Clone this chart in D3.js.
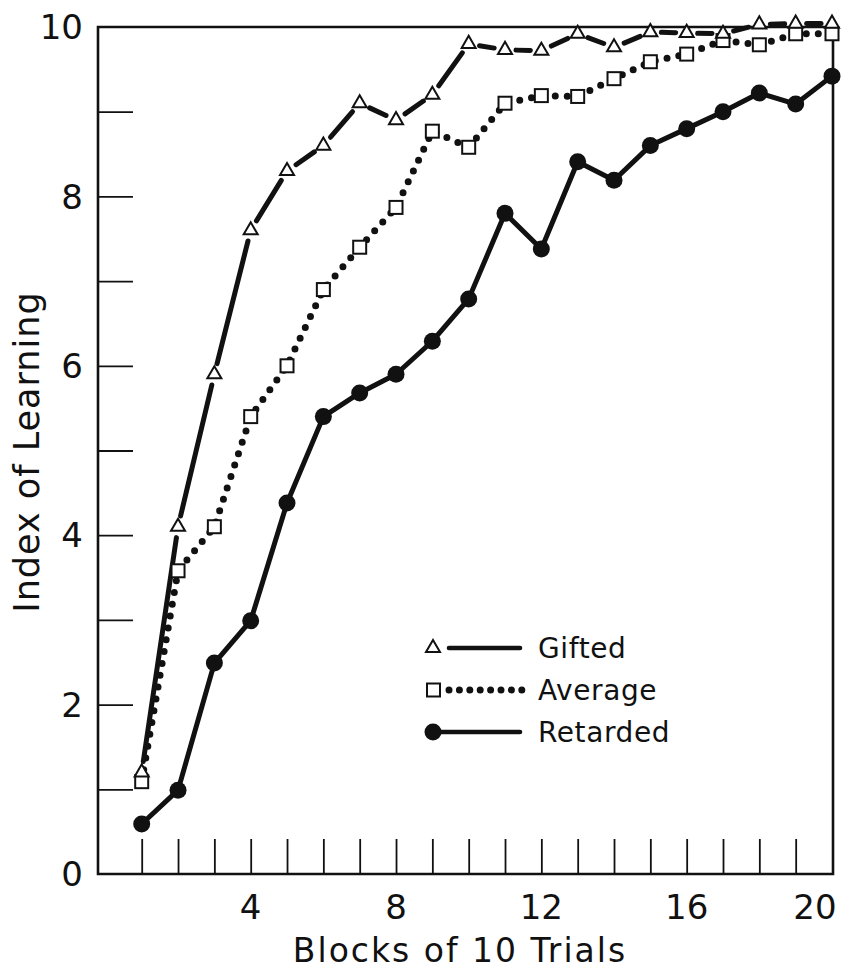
<!DOCTYPE html>
<html>
<head>
<meta charset="utf-8">
<script src="https://cdn.jsdelivr.net/npm/d3@7"></script>
<style>
  html, body { margin: 0; padding: 0; background: #fff; }
  svg { display: block; }
  text { font-family: "DejaVu Sans", sans-serif; fill: #111; }
</style>
</head>
<body>
<svg id="chart" width="843" height="969"></svg>
<script>
// ---- data ----
const blocks = d3.range(1, 21);
const gifted   = [1.2, 4.1, 5.9, 7.6, 8.3, 8.6, 9.1, 8.9, 9.2, 9.8, 9.73, 9.72, 9.92, 9.76, 9.94, 9.93, 9.92, 10.03, 10.04, 10.04];
const average  = [1.09, 3.58, 4.1, 5.4, 6.0, 6.9, 7.4, 7.87, 8.77, 8.58, 9.1, 9.19, 9.18, 9.39, 9.59, 9.68, 9.84, 9.79, 9.92, 9.92];
const retarded = [0.59, 0.99, 2.49, 2.99, 4.38, 5.4, 5.68, 5.9, 6.29, 6.79, 7.8, 7.38, 8.41, 8.19, 8.6, 8.8, 9.0, 9.22, 9.09, 9.42];
const xTickLabels = [4, 8, 12, 16, 20];
const yTickLabels = [0, 2, 4, 6, 8, 10];
const yMinorTicks = d3.range(1, 10);
const xMinorTicks = d3.range(1, 20);
const legendItems = ["Gifted", "Average", "Retarded"];
const xTitle = "Blocks of 10 Trials";
const yTitle = "Index of Learning";

(function () {
// ---- layout ----
const svg = d3.select("#chart");
const mLeft = 98, mRight = 833, mTop = 27, mBottom = 874;
const x = d3.scaleLinear().domain([1, 20]).range([141.7, 832]);
const y = d3.scaleLinear().domain([0, 10]).range([mBottom, mTop]);

// frame
const g = svg.append("g");
g.append("path")
  .attr("d", `M${mLeft},${mTop}H${mRight}V${mBottom}H${mLeft}Z`)
  .attr("fill", "none").attr("stroke", "#111").attr("stroke-width", 2.6);

// y inner ticks
const yAxis = d3.axisRight(y).tickValues(yMinorTicks).tickSize(35).tickFormat("");
const ya = g.append("g").attr("transform", `translate(${mLeft},0)`).call(yAxis);
ya.select(".domain").remove();
ya.selectAll("line").attr("stroke", "#111").attr("stroke-width", 1.8);

// x inner ticks
const xAxis = d3.axisTop(x).tickValues(xMinorTicks).tickSize(35).tickFormat("");
const xa = g.append("g").attr("transform", `translate(0,${mBottom})`).call(xAxis);
xa.select(".domain").remove();
xa.selectAll("line").attr("stroke", "#111").attr("stroke-width", 1.8);

// tick labels
g.selectAll(".ylab").data(yTickLabels).enter().append("text")
  .attr("x", 83).attr("y", d => y(d)).attr("dy", "0.36em")
  .attr("text-anchor", "end").attr("font-size", 34)
  .text(d => d);
g.selectAll(".xlab").data(xTickLabels).enter().append("text")
  .attr("x", d => x(d) + (d === 20 ? -17 : 0)).attr("y", 919)
  .attr("text-anchor", "middle").attr("font-size", 34)
  .text(d => d);

// titles
g.append("text").attr("x", 460).attr("y", 962).attr("text-anchor", "middle")
  .attr("font-size", 33).attr("letter-spacing", 2).text(xTitle);
g.append("text").attr("transform", "translate(39,452) rotate(-90)")
  .attr("text-anchor", "middle").attr("font-size", 35).attr("letter-spacing", 1).text(yTitle);

// ---- series ----
const pts = arr => arr.map((v, i) => [x(blocks[i]), y(v)]);
const line = d3.line();

// Retarded: solid thick line
const rp = pts(retarded);
g.append("path").attr("d", line(rp)).attr("fill", "none")
  .attr("stroke", "#111").attr("stroke-width", 5).attr("stroke-linejoin", "round");

// Average: dotted line
const ap = pts(average);
g.append("path").attr("d", line(ap)).attr("fill", "none")
  .attr("stroke", "#111").attr("stroke-width", 7)
  .attr("stroke-linecap", "round").attr("stroke-dasharray", "0 12");

// Gifted: long dash per segment with gaps at markers
const gp = pts(gifted);
const gap = 11;
for (let i = 0; i < gp.length - 1; i++) {
  const [x0, y0] = gp[i], [x1, y1] = gp[i + 1];
  const len = Math.hypot(x1 - x0, y1 - y0);
  if (len < 2 * gap + 4) continue;
  const ux = (x1 - x0) / len, uy = (y1 - y0) / len;
  g.append("path")
    .attr("d", line([[x0 + ux * gap, y0 + uy * gap], [x1 - ux * gap, y1 - uy * gap]]))
    .attr("stroke", "#111").attr("stroke-width", 5).attr("stroke-linecap", "round");
}

// markers
const tri = d3.symbol().type(d3.symbolTriangle).size(85);
g.selectAll(".sq").data(ap).enter().append("rect")
  .attr("x", d => d[0] - 6.5).attr("y", d => d[1] - 6.5)
  .attr("width", 13).attr("height", 13)
  .attr("fill", "#fff").attr("stroke", "#111").attr("stroke-width", 2);
g.selectAll(".tr").data(gp).enter().append("path")
  .attr("d", tri).attr("transform", d => `translate(${d[0]},${d[1]})`)
  .attr("fill", "#fff").attr("stroke", "#111").attr("stroke-width", 2);
g.selectAll(".ci").data(rp).enter().append("circle")
  .attr("cx", d => d[0]).attr("cy", d => d[1]).attr("r", 8.5).attr("fill", "#111");

// ---- legend ----
const lg = g.append("g");
const rows = [648, 690, 732];
// Gifted
lg.append("path").attr("d", tri).attr("transform", `translate(433,${rows[0]})`)
  .attr("fill", "#fff").attr("stroke", "#111").attr("stroke-width", 2);
lg.append("line").attr("x1", 449).attr("x2", 520).attr("y1", rows[0]).attr("y2", rows[0])
  .attr("stroke", "#111").attr("stroke-width", 4.6).attr("stroke-linecap", "round");
// Average
lg.append("rect").attr("x", 427).attr("y", rows[1] - 6.5).attr("width", 13).attr("height", 13)
  .attr("fill", "#fff").attr("stroke", "#111").attr("stroke-width", 2);
lg.append("line").attr("x1", 449).attr("x2", 522).attr("y1", rows[1]).attr("y2", rows[1])
  .attr("stroke", "#111").attr("stroke-width", 7).attr("stroke-linecap", "round")
  .attr("stroke-dasharray", "0 10.4");
// Retarded
lg.append("line").attr("x1", 433).attr("x2", 520).attr("y1", rows[2]).attr("y2", rows[2])
  .attr("stroke", "#111").attr("stroke-width", 4.6).attr("stroke-linecap", "round");
lg.append("circle").attr("cx", 433).attr("cy", rows[2]).attr("r", 8.5).attr("fill", "#111");

lg.selectAll(".lt").data(legendItems).enter().append("text")
  .attr("x", 538).attr("y", (d, i) => rows[i] + 10)
  .attr("font-size", 28).attr("letter-spacing", 0.6)
  .text(d => d);
})();
</script>
</body>
</html>
